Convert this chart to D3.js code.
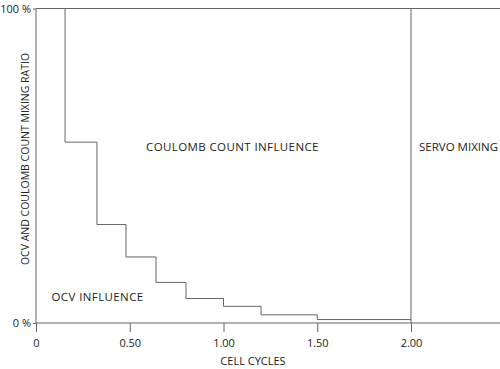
<!DOCTYPE html>
<html><head><meta charset="utf-8">
<script src="https://cdn.jsdelivr.net/npm/d3@7"></script>
<style>body{margin:0;background:#fff}svg{display:block}text{font-family:"Open Sans",sans-serif;fill:#222}</style>
</head><body><svg id="c" width="500" height="369"></svg>
<script>
const stepX = [0, 0.155, 0.325, 0.48, 0.64, 0.80, 1.0, 1.2, 1.5, 2.0];
const stepY = [100, 57.5, 31.3, 21, 12.9, 7.8, 5.3, 2.6, 1.1];
const xTicks = [0, 0.5, 1.0, 1.5, 2.0];
const xTickLabels = ["0", "0.50", "1.00", "1.50", "2.00"];
const yTickLabels = ["0 %", "100 %"];
const regionLabels = ["COULOMB COUNT INFLUENCE", "SERVO MIXING", "OCV INFLUENCE"];

const svg = d3.select("#c");
const x = d3.scaleLinear().domain([0, 2.0]).range([36, 411]);
const y = d3.scaleLinear().domain([0, 100]).range([323, 8.5]);
const col = "#666";

// frame lines
svg.append("line").attr("x1", x(0)).attr("x2", 500).attr("y1", y(0)).attr("y2", y(0)).attr("stroke", col);
svg.append("line").attr("x1", x(0)).attr("x2", 500).attr("y1", y(100)).attr("y2", y(100)).attr("stroke", col);
svg.append("line").attr("x1", x(0)).attr("x2", x(0)).attr("y1", y(100)).attr("y2", y(0)).attr("stroke", col);
svg.append("line").attr("x1", x(2)).attr("x2", x(2)).attr("y1", y(100)).attr("y2", y(0)).attr("stroke", col);

// x axis
const xa = d3.axisBottom(x).tickValues(xTicks).tickSize(9).tickPadding(7)
  .tickFormat((d, i) => xTickLabels[i]);
const gx = svg.append("g").attr("transform", `translate(0,${y(0)})`).call(xa);
gx.select(".domain").remove();
gx.selectAll(".tick line").attr("stroke", col);
gx.selectAll("text").attr("font-size", 11).style("fill", "#222");

// y labels
const ya = d3.axisLeft(y).tickValues([0, 100]).tickSize(3).tickPadding(2)
  .tickFormat((d, i) => yTickLabels[i]);
const gy = svg.append("g").attr("transform", `translate(${x(0)},0)`).call(ya);
gy.select(".domain").remove();
gy.selectAll(".tick line").attr("stroke", col);
gy.selectAll("text").attr("font-size", 11).style("fill", "#222");

// step line
const pts = stepY.map((v, i) => [stepX[i], v]);
pts.push([stepX[stepX.length - 1], stepY[stepY.length - 1]]);
const line = d3.line().x(d => x(d[0])).y(d => y(d[1])).curve(d3.curveStepAfter);
svg.append("path").attr("d", line(pts)).attr("fill", "none").attr("stroke", col).attr("stroke-width", 1);

// axis titles
svg.append("text").attr("x", 253).attr("y", 365).attr("text-anchor", "middle").attr("font-size", 11).text("CELL CYCLES");
svg.append("text").attr("transform", "translate(29,159) rotate(-90)").attr("text-anchor", "middle").attr("font-size", 10.5).text("OCV AND COULOMB COUNT MIXING RATIO");

// region labels
svg.append("text").attr("x", 146).attr("y", 151).attr("font-size", 11.5).attr("letter-spacing", 0.4).text(regionLabels[0]);
svg.append("text").attr("x", 419).attr("y", 150.5).attr("font-size", 11.5).text(regionLabels[1]);
svg.append("text").attr("x", 51.5).attr("y", 301).attr("font-size", 11.5).attr("letter-spacing", 0.4).text(regionLabels[2]);
</script></body></html>
